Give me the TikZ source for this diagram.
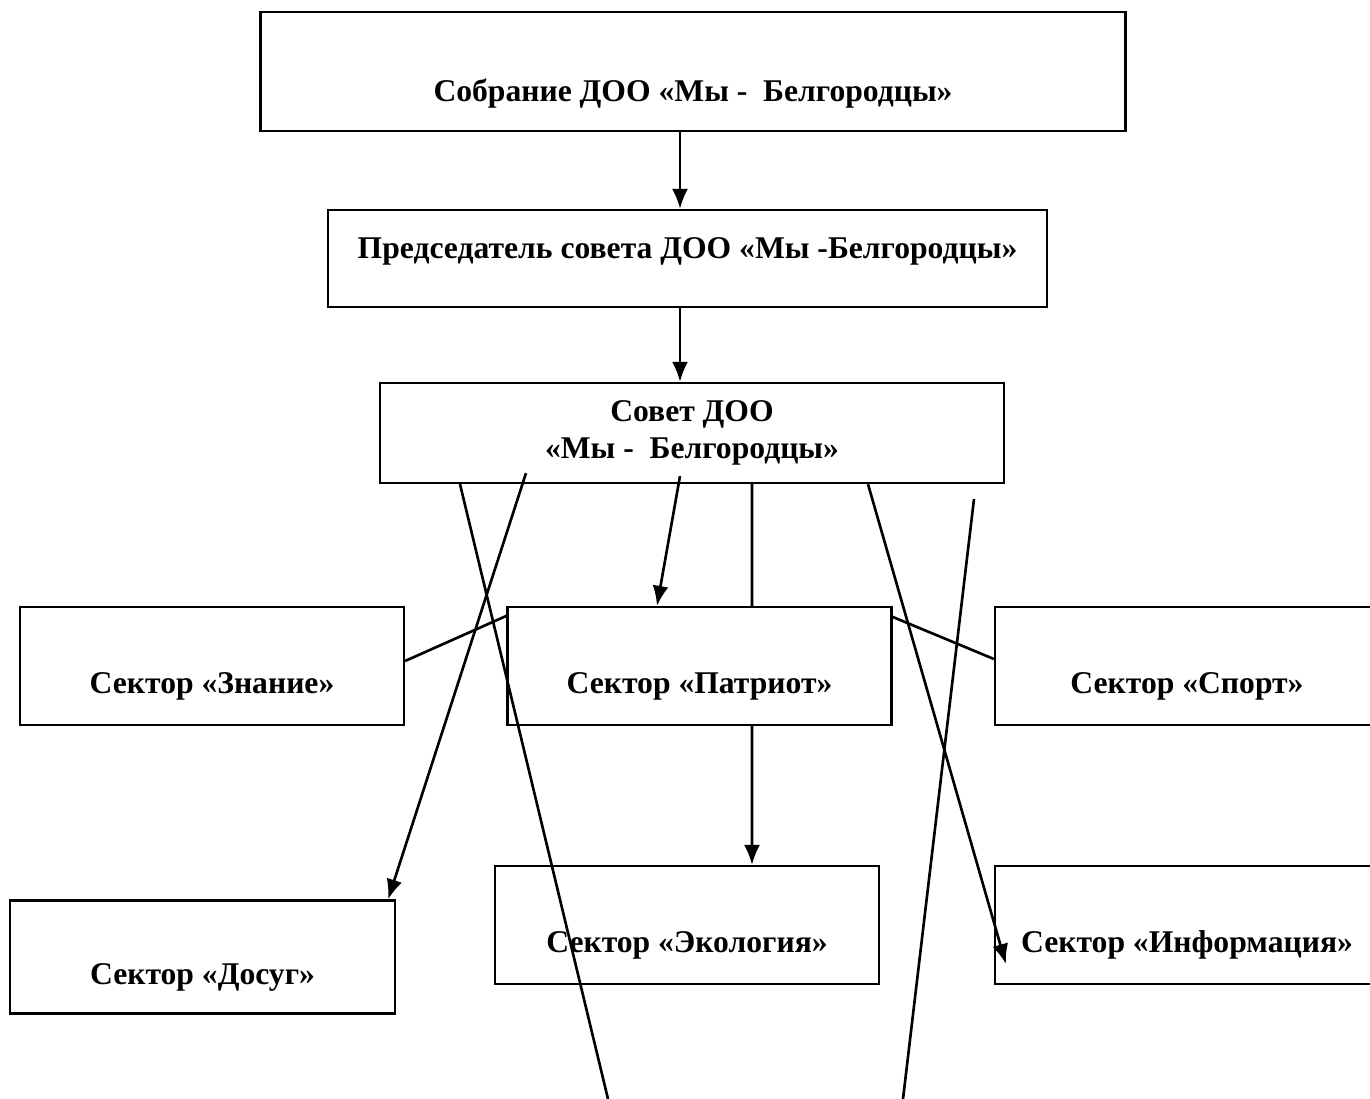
\documentclass[tikz,border=0pt]{standalone}
\usepackage{fontspec}
\setmainfont{Liberation Serif}
\usetikzlibrary{calc,arrows.meta}

\tikzstyle{block}=[rectangle,draw=black,line width=1.3pt,inner sep=0pt,align=center,font=\bfseries\fontsize{18}{21}\selectfont]
\tikzstyle{sector}=[block,minimum width=7.68cm,minimum height=2.36cm,text height=1.25cm,text depth=0.15cm]
\tikzstyle{edgeStyle}=[line width=1.5pt]

\begin{document}
\begin{tikzpicture}[x=0.02cm, y=-0.02cm, >={Latex[length=4mm,width=3.2mm]}]
	\useasboundingbox (0,0) rectangle (1370,1099);

	% Leitung
	\node(sobranie) at (693,71.5) [block, minimum width=17.3cm, minimum height=2.38cm, text height=1.37cm, text depth=0.15cm] {Собрание ДОО «Мы -\ \ Белгородцы»};
	\node(predsed) at (687.5,258.5) [block, minimum width=14.38cm, minimum height=1.94cm, text height=0.3cm, text depth=0.3cm] {Председатель совета ДОО «Мы -Белгородцы»};
	\node(sovet) at (692,433) [block, minimum width=12.48cm, minimum height=2cm] {Совет ДОО\\«Мы -\ \ Белгородцы»};

	% Sektoren
	\node(znanie) at (212,666) [sector] {Сектор «Знание»};
	\node(patriot) at (699.5,666) [sector] {Сектор «Патриот»};
	\node(sport) at (1187,666) [sector] {Сектор «Спорт»};
	\node(dosug) at (202.5,957) [sector, minimum width=7.7cm, minimum height=2.26cm] {Сектор «Досуг»};
	\node(ekologia) at (687,925) [sector] {Сектор «Экология»};
	\node(inform) at (1187,925) [sector] {Сектор «Информация»};

	% freie Enden
	\coordinate(endA) at (608,1099);
	\coordinate(startB) at (974,499);
	\coordinate(endB) at (903,1099);

	\draw[->, edgeStyle] ($(sobranie.south)+(-13,0)$) -- ($(predsed.north)+(-7.5,0)$);
	\draw[->, edgeStyle] ($(predsed.south)+(-7.5,0)$) -- ($(sovet.north)+(-12,0)$);
	\draw[->, edgeStyle] ($(sovet.south)+(-12,-8)$) -- ($(patriot.north)+(-42.5,0)$);
	\draw[edgeStyle] ($(sovet.south)+(60,0)$) -- ($(patriot.north)+(52.5,0)$);
	\draw[->, edgeStyle] ($(patriot.south)+(52.5,0)$) -- ($(ekologia.north)+(65,0)$);
	\draw[edgeStyle] ($(znanie.east)+(0,-5)$) -- ($(patriot.north west)+(0,10)$);
	\draw[edgeStyle] ($(patriot.north east)+(0,11)$) -- ($(sport.west)+(0,-7)$);
	\draw[edgeStyle] ($(sovet.south)+(-232,0)$) -- (endA);
	\draw[->, edgeStyle] ($(sovet.south)+(-166,-11)$) -- ($(dosug.north east)+(-8,0)$);
	\draw[->, edgeStyle] ($(sovet.south)+(176,0)$) -- ($(inform.west)+(12,39)$);
	\draw[edgeStyle] (startB) -- (endB);

\end{tikzpicture}
\end{document}
